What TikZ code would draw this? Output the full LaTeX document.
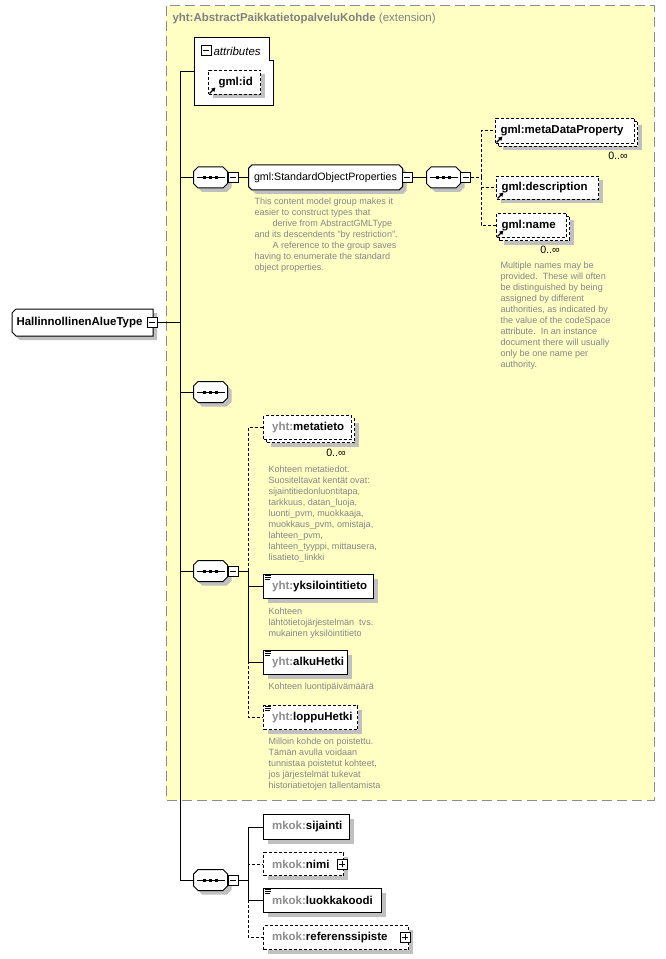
\documentclass[tikz,border=0pt]{standalone}
\usepackage{fontspec}
\setmainfont{Liberation Sans}
\usetikzlibrary{arrows.meta}
\definecolor{ylw}{HTML}{FFFFC4}
\definecolor{shdc}{HTML}{C0C0C0}
\definecolor{pfx}{HTML}{8C8C8C}
\definecolor{dsc}{HTML}{868686}
\definecolor{ttl}{HTML}{808080}
\definecolor{brd}{HTML}{8C8C8C}
\newcommand\chpath[2]{([xshift=#2]#1.north west) -- ([xshift=-#2]#1.north east) -- ([yshift=-#2]#1.north east) -- ([yshift=#2]#1.south east) -- ([xshift=-#2]#1.south east) -- ([xshift=#2]#1.south west) -- ([yshift=#2]#1.south west) -- ([yshift=-#2]#1.north west) -- cycle}
\newcommand\seqicon[1]{%
  \draw ([xshift=2.25pt]#1.west) -- ([xshift=-2.25pt]#1.east);
  \fill ([shift={(-7.5,-1.5)}]#1.center) rectangle ++(3,3);
  \fill ([shift={(-1.5,-1.5)}]#1.center) rectangle ++(3,3);
  \fill ([shift={(4.5,-1.5)}]#1.center) rectangle ++(3,3);}
\newcommand\refarrow[1]{\draw[line width=0.9pt, -{Triangle[length=3pt,width=3.2pt]}] ([shift={(1.5,-1.5)}]#1.south west) -- ++(6,-6);}
\newcommand\simpleicon[1]{\draw[line width=0.6pt] ([shift={(2,1.5)}]#1.north west) -- ++(6,0) ([shift={(2,3.5)}]#1.north west) -- ++(6,0) ([shift={(2,5.5)}]#1.north west) -- ++(5,0);}
\begin{document}
\begin{tikzpicture}[x=0.75pt,y=-0.75pt,line width=0.75pt,
  el/.style 2 args={draw, fill=white, anchor=north west, inner sep=0pt, minimum width=#1*0.75pt, minimum height=#2*0.75pt},
  sh/.style={preaction={draw=none, fill=shdc, transform canvas={shift={(3pt,-3pt)}}}},
  dsh/.style={dash pattern=on 2.25pt off 1.5pt},
  sq/.style={inner sep=0pt, minimum width=24.75pt, minimum height=15pt},
  mbox/.style={draw, fill=white, inner sep=0pt, minimum size=7.5pt, path picture={\draw[line width=0.75pt] ([xshift=1.5pt]path picture bounding box.west) -- ([xshift=-1.5pt]path picture bounding box.east);}},
  pbox/.style={draw, fill=white, inner sep=0pt, minimum size=7.5pt, path picture={\draw[line width=0.75pt] ([xshift=1.5pt]path picture bounding box.west) -- ([xshift=-1.5pt]path picture bounding box.east) ([yshift=1.5pt]path picture bounding box.south) -- ([yshift=-1.5pt]path picture bounding box.north);}},
  lb/.style={anchor=west, inner sep=0pt, font=\fontsize{8.6}{10}\selectfont\bfseries},
  ds/.style={anchor=north west, inner sep=0pt, align=left, text=dsc, font=\fontsize{6.8}{8.25}\selectfont},
  oc/.style={inner sep=0pt, font=\fontsize{8}{9}\selectfont}]
\useasboundingbox (0,0) rectangle (665,959);
\fill[white] (0,0) rectangle (665,959);
% extension box
\filldraw[draw=brd, fill=ylw, dash pattern=on 7.5pt off 3.75pt] (166,6) rectangle (654,800);
\node[anchor=west, inner sep=0pt, text=ttl, font=\fontsize{8.6}{10}\selectfont] (title) at (172,19) {\textbf{yht:AbstractPaikkatietopalveluKohde} (extension)};
% attributes
\node[anchor=north west, inner sep=0pt, minimum width=58.5pt, minimum height=50.25pt] (attr) at (194,38) {};
\draw[fill=white] (attr.north west) -- ([xshift=-3pt]attr.north east) -- ([xshift=-3pt,yshift=-17.25pt]attr.north east) -- ([yshift=-17.25pt]attr.north east) -- (attr.south east) -- (attr.south west) -- cycle;
\node[mbox] (attrm) at (206,51) {};
\node[anchor=west, inner sep=0pt, font=\fontsize{8.6}{10}\selectfont\itshape] (attrl) at (213,51) {attributes};
\node[el={52}{24}, dsh, sh] (gid) at (208,70) {};
\node[lb] (gidl) at ([xshift=7.5pt]gid.west) {gml:id};
\refarrow{gid}
% root
\node[anchor=north west, inner sep=0pt, minimum width=105pt, minimum height=19.5pt] (root) at (12,309) {};
\draw[fill=white, sh] ([xshift=3pt]root.north west) -- (root.north east) -- (root.south east) -- ([xshift=3pt]root.south west) -- ([yshift=3pt]root.south west) -- ([yshift=-3pt]root.north west) -- cycle;
\node[lb] (rootl) at ([xshift=3pt]root.west) {HallinnollinenAlueType};
\node[mbox] (rootm) at (152,322) {};
% sequences
\node[sq] (s1) at (210.5,177.5) {};
\node[sq] (s2) at (210.5,392) {};
\node[sq] (s3) at (210.5,571) {};
\node[sq] (s4) at (210.5,880) {};
\node[sq] (s1b) at (443.5,177.5) {};
\foreach \s in {s1,s2,s3,s4,s1b}{\draw[fill=white, sh] \chpath{\s}{3.4pt}; \seqicon{\s}}
\node[mbox] (s1m) at (233,177.5) {};
\node[mbox] (s3m) at (233,571) {};
\node[mbox] (s4m) at (233,880) {};
\node[mbox] (s1bm) at (465.5,177.5) {};
% group
\node[inner sep=0pt, minimum width=114.75pt, minimum height=18pt] (grp) at (325.5,177.5) {};
\draw[fill=white, sh] \chpath{grp}{2.5pt};
\node[anchor=west, inner sep=0pt, font=\fontsize{8}{9.5}\selectfont] (grpl) at ([xshift=3.75pt]grp.west) {gml:StandardObjectProperties};
\node[mbox] (grpm) at (407,177.5) {};
\node[ds] (grpd) at (254,197.5) {This content model group makes it\\easier to construct types that\\\hspace*{13.5pt}derive from AbstractGMLType\\and its descendents "by restriction".\\\hspace*{13.5pt}A reference to the group saves\\having to enumerate the standard\\object properties.};
% gml children
\node[el={139}{25}, dsh, sh] (mdpb) at (498,121) {};
\node[el={139}{25}, dsh] (mdp) at (495,118) {};
\node[lb] (mdpl) at ([xshift=3.75pt]mdp.west) {gml:metaDataProperty};
\refarrow{mdp}
\node[oc] (mdpo) at (618,156) {0..∞};
\node[el={102}{23}, dsh, sh] (gdesc) at (496,176) {};
\node[lb] (gdescl) at ([xshift=3.75pt]gdesc.west) {gml:description};
\refarrow{gdesc}
\node[el={70}{24}, dsh, sh] (gnameb) at (499,216) {};
\node[el={70}{24}, dsh] (gname) at (496,213) {};
\node[lb] (gnamel) at ([xshift=3.75pt]gname.west) {gml:name};
\refarrow{gname}
\node[oc] (gnameo) at (550,250) {0..∞};
\node[ds] (gnamed) at (500,261.5) {Multiple names may be\\provided.\ \ These will often\\be distinguished by being\\assigned by different\\authorities, as indicated by\\the value of the codeSpace\\attribute.\ \ In an instance\\document there will usually\\only be one name per\\authority.};
% seq3 children
\node[el={88}{24}, dsh, sh] (metab) at (266,418) {};
\node[el={88}{24}, dsh] (meta) at (263,415) {};
\node[lb] (metal) at ([xshift=6.5pt]meta.west) {{\color{pfx}yht:}metatieto};
\node[oc] (metao) at (336,453) {0..∞};
\node[ds] (metad) at (268,465) {Kohteen metatiedot.\\Suositeltavat kentät ovat:\\sijaintitiedonluontitapa,\\tarkkuus, datan\_luoja,\\luonti\_pvm, muokkaaja,\\muokkaus\_pvm, omistaja,\\lahteen\_pvm,\\lahteen\_tyyppi, mittausera,\\lisatieto\_linkki};
\node[el={110}{24}, sh] (yks) at (263,574) {};
\node[lb] (yksl) at ([xshift=6.5pt]yks.west) {{\color{pfx}yht:}yksilointitieto};
\simpleicon{yks}
\node[ds] (yksd) at (268,607) {Kohteen\\lähtötietojärjestelmän\ \ tvs.\\mukainen yksilöintitieto};
\node[el={84}{24}, sh] (alku) at (263,650) {};
\node[lb] (alkul) at ([xshift=6.5pt]alku.west) {{\color{pfx}yht:}alkuHetki};
\simpleicon{alku}
\node[ds] (alkud) at (268,682.5) {Kohteen luontipäivämäärä};
\node[el={94}{24}, dsh, sh] (loppu) at (263,705) {};
\node[lb] (loppul) at ([xshift=6.5pt]loppu.west) {{\color{pfx}yht:}loppuHetki};
\simpleicon{loppu}
\node[ds] (loppud) at (268,737) {Milloin kohde on poistettu.\\Tämän avulla voidaan\\tunnistaa poistetut kohteet,\\jos järjestelmät tukevat\\historiatietojen tallentamista};
% seq4 children
\node[el={86}{25}, sh] (sij) at (263,814) {};
\node[lb] (sijl) at ([xshift=6.5pt]sij.west) {{\color{pfx}mkok:}sijainti};
\node[el={80}{23}, dsh, sh] (nimi) at (263,852) {};
\node[lb] (niml) at ([xshift=6.5pt]nimi.west) {{\color{pfx}mkok:}nimi};
\node[pbox] (nimp) at (342,864) {};
\node[el={118}{24}, sh] (luok) at (263,888) {};
\node[lb] (luokl) at ([xshift=6.5pt]luok.west) {{\color{pfx}mkok:}luokkakoodi};
\simpleicon{luok}
\node[el={145}{24}, dsh, sh] (refp) at (263,925) {};
\node[lb] (refpl) at ([xshift=6.5pt]refp.west) {{\color{pfx}mkok:}referenssipiste};
\node[pbox] (refpp) at (405,937) {};
% connectors
\coordinate (tr) at (180,72);
\draw (attr.west |- tr) -- (tr) -- (tr |- s4.west) -- (s4.west);
\draw (rootm.east) -- (rootm.east -| tr);
\draw (s1.west -| tr) -- (s1.west);
\draw (s2.west -| tr) -- (s2.west);
\draw (s3.west -| tr) -- (s3.west);
\draw (s1m.east) -- (grp.west);
\draw (grpm.east) -- (s1b.west);
\coordinate (j1) at (481,177.5);
\draw[dsh] (s1bm.east) -- (j1);
\draw[dsh] (j1) |- (mdp.west);
\draw[dsh] (j1) |- (gdesc.west);
\draw[dsh] (j1) |- (gname.west);
\coordinate (j3) at (248,571);
\draw (s3m.east) -- (j3);
\draw[dsh] (j3) |- (meta.west);
\draw[dsh] (j3) |- (loppu.west);
\draw (j3) |- (yks.west);
\draw (j3) |- (alku.west);
\coordinate (j4) at (248,880);
\draw (s4m.east) -- (j4);
\draw[dsh] (j4) |- (nimi.west);
\draw[dsh] (j4) |- (refp.west);
\draw (j4) |- (sij.west);
\draw (j4) |- (luok.west);
\end{tikzpicture}
\end{document}
